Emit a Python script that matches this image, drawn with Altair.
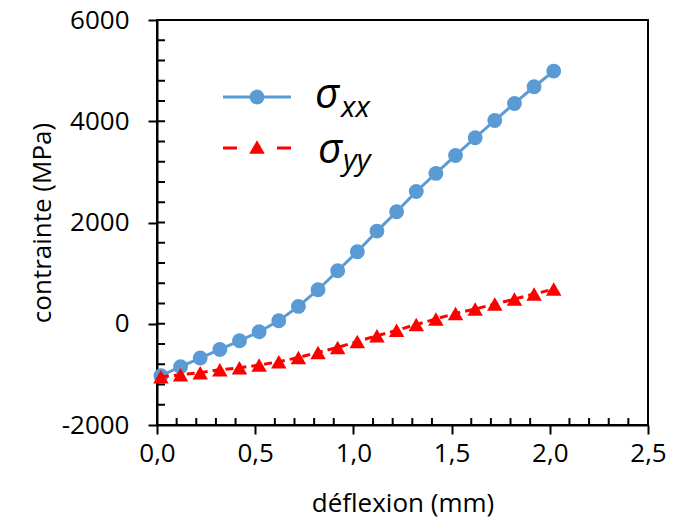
import altair as alt
import pandas as pd

# ---- data ----
deflexion = [0.02, 0.12, 0.22, 0.32, 0.42, 0.52, 0.62, 0.72, 0.82, 0.92, 1.02,
             1.12, 1.22, 1.32, 1.42, 1.52, 1.62, 1.72, 1.82, 1.92, 2.02]
sigma_xx = [-1027, -849, -677, -508, -336, -158, 59, 342, 672, 1047, 1422,
            1830, 2212, 2613, 2969, 3324, 3674, 4015, 4351, 4681, 4991]
sigma_yy = [-1047, -1007, -968, -908, -870, -816, -750, -666, -567, -468, -350,
            -237, -130, -15, 95, 204, 290, 389, 488, 587, 685]

x_ticks = [0.0, 0.5, 1.0, 1.5, 2.0, 2.5]
y_ticks = [-2000, 0, 2000, 4000, 6000]
x_minor = [0.1, 0.2, 0.3, 0.4, 0.6, 0.7, 0.8, 0.9, 1.1, 1.2, 1.3, 1.4,
           1.6, 1.7, 1.8, 1.9, 2.1, 2.2, 2.3, 2.4]
y_minor = [-1600, -1200, -800, -400, 400, 800, 1200, 1600, 2400, 2800, 3200,
           3600, 4400, 4800, 5200, 5600]

W, H = 491, 405
FONT = "Open Sans"
BLUE = "#5B9BD5"
RED = "#FF0000"

df = pd.DataFrame({"x": deflexion, "sxx": sigma_xx, "syy": sigma_yy})
xm = pd.DataFrame({"v": x_minor})
ym = pd.DataFrame({"v": y_minor})
yM = pd.DataFrame({"v": y_ticks})
one = pd.DataFrame({"a": [0]})

xs = alt.Scale(domain=[0, 2.5], nice=False, zero=False)
ys = alt.Scale(domain=[-2000, 6000], nice=False, zero=False)

xaxis = alt.Axis(values=x_ticks,
                 labelExpr="replace(format(datum.value, '.1f'), '.', ',')",
                 title="déflexion (mm)", grid=False, tickSize=9, tickWidth=2,
                 tickColor="black", domainColor="black", domainWidth=2,
                 labelFont=FONT, labelFontSize=26, labelColor="black",
                 labelPadding=6, labelFlush=False, labelOverlap=False,
                 titleFont=FONT, titleFontSize=26, titleFontWeight="normal",
                 titleColor="black", titlePadding=24)
yaxis = alt.Axis(values=y_ticks, labelExpr="'' + datum.value",
                 title="contrainte (MPa)", grid=False, tickSize=9, tickWidth=2,
                 tickColor="black", domainColor="black", domainWidth=2,
                 labelFont=FONT, labelFontSize=26, labelColor="black",
                 labelPadding=19, labelFlush=False, labelOverlap=False,
                 titleFont=FONT, titleFontSize=26, titleFontWeight="normal",
                 titleColor="black", titlePadding=6)


def X(f):
    return alt.X(f, type="quantitative", scale=xs, axis=xaxis)


def Y(f):
    return alt.Y(f, type="quantitative", scale=ys, axis=yaxis)


base = alt.Chart(df)
blue_line = base.mark_line(color=BLUE, strokeWidth=3).encode(x=X("x"), y=Y("sxx"))
blue_pts = base.mark_point(filled=True, shape="circle", size=220, color=BLUE,
                           opacity=1).encode(x=X("x"), y=Y("sxx"))
red_line = base.mark_line(color=RED, strokeWidth=3, strokeDash=[8, 5]).encode(
    x=X("x"), y=Y("syy"))
red_pts = base.mark_point(filled=True, shape="triangle-up", size=240, color=RED,
                          opacity=1).encode(x=X("x"), y=Y("syy"))

# minor ticks (inside) and inner part of the major y ticks
xminor = alt.Chart(xm).mark_rule(color="black", strokeWidth=2).encode(
    x=X("v"), y=alt.value(H), y2=alt.value(H - 7))
yminor = alt.Chart(ym).mark_rule(color="black", strokeWidth=2).encode(
    y=Y("v"), x=alt.value(0), x2=alt.value(8))
ymajor_in = alt.Chart(yM).mark_rule(color="black", strokeWidth=2).encode(
    y=Y("v"), x=alt.value(0), x2=alt.value(8))

# legend
lg = alt.Chart(one)
leg_blue_line = lg.mark_rule(color=BLUE, strokeWidth=3).encode(
    x=alt.value(66), x2=alt.value(134), y=alt.value(77))
leg_blue_pt = lg.mark_point(filled=True, shape="circle", size=220, color=BLUE,
                            opacity=1).encode(x=alt.value(100), y=alt.value(77))
leg_red_line = lg.mark_rule(color=RED, strokeWidth=3, strokeDash=[14, 40]).encode(
    x=alt.value(66), x2=alt.value(134), y=alt.value(128))
leg_red_pt = lg.mark_point(filled=True, shape="triangle-up", size=240, color=RED,
                           opacity=1).encode(x=alt.value(100), y=alt.value(127))

def txt(t, size, x, y):
    return lg.mark_text(text=t, font=FONT, fontStyle="italic", fontSize=size,
                        align="left", baseline="alphabetic", color="black").encode(
        x=alt.value(x), y=alt.value(y))

legend = [leg_blue_line, leg_blue_pt, leg_red_line, leg_red_pt,
          txt("σ", 42, 158, 88), txt("xx", 30, 184, 97),
          txt("σ", 42, 161, 143), txt("yy", 30, 186, 150)]

chart = alt.layer(xminor, yminor, ymajor_in, blue_line, blue_pts, red_line,
                  red_pts, *legend).properties(
    width=W, height=H,
    padding={"left": 149, "top": 12, "right": 20, "bottom": 94},
    autosize=alt.AutoSizeParams(type="none"),
).configure(
    background="white",
    view=alt.ViewConfig(stroke="black", strokeWidth=2),
)

chart.save("out.html", embed_options={"renderer": "svg", "actions": False})
